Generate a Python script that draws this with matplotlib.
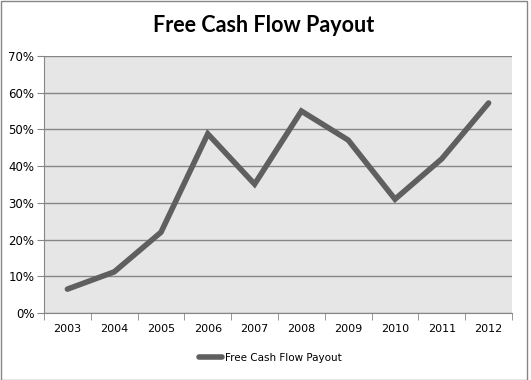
import numpy as np
import matplotlib.pyplot as plt
from matplotlib.patches import Rectangle
from matplotlib.ticker import FuncFormatter

years = ['2003', '2004', '2005', '2006', '2007', '2008', '2009', '2010', '2011', '2012']
payout = [6.5, 11.2, 22.0, 48.8, 35.1, 55.0, 47.1, 31.0, 42.0, 57.2]

fig = plt.figure(figsize=(5.31, 3.8), dpi=100)
W, H = 531., 380.
ax = fig.add_axes([44/W, 1-313/H, (512-44)/W, (313-56)/H])
ax.set_facecolor('#e6e6e6')

x = np.arange(len(years))
ax.plot(x, payout, color='#5f5f5f', lw=4, solid_capstyle='round', solid_joinstyle='miter',
        label='Free Cash Flow Payout', zorder=3)

ax.set_xlim(-0.5, len(years)-0.5)
ax.set_ylim(0, 70)
ax.set_yticks(np.arange(0, 71, 10))
ax.yaxis.set_major_formatter(FuncFormatter(lambda v, p: '%d%%' % v))
ax.set_xticks(x)
ax.set_xticklabels(years)
ax.set_xticks(np.arange(-0.5, len(years), 1), minor=True)
ax.tick_params(axis='x', which='major', length=0, pad=8, labelsize=8)
ax.tick_params(axis='x', which='minor', length=5, color='#868686', direction='out')
ax.tick_params(axis='y', length=5, color='#868686', labelsize=8.5, pad=2)
ax.grid(axis='y', color='#868686', lw=1)
ax.set_axisbelow(True)
for s in ['top', 'right']:
    ax.spines[s].set_visible(False)
for s in ['left', 'bottom']:
    ax.spines[s].set_color('#868686')

fig.text(0.5 - 2/W, 1-25/H, 'Free Cash Flow Payout', ha='center', va='center',
         fontsize=15.5, fontweight='bold', family=['Lato', 'DejaVu Sans'])

leg = fig.legend(loc='center', bbox_to_anchor=(270/W, 1-358/H), frameon=False,
                 fontsize=7.5, handlelength=2.2, handletextpad=0.3)

fig.patches.append(Rectangle((0.5/W, 0.5/H), 526/W, 379/H, transform=fig.transFigure,
                             fill=False, ec='#868686', lw=1))

plt.savefig('out.png', dpi=100)
